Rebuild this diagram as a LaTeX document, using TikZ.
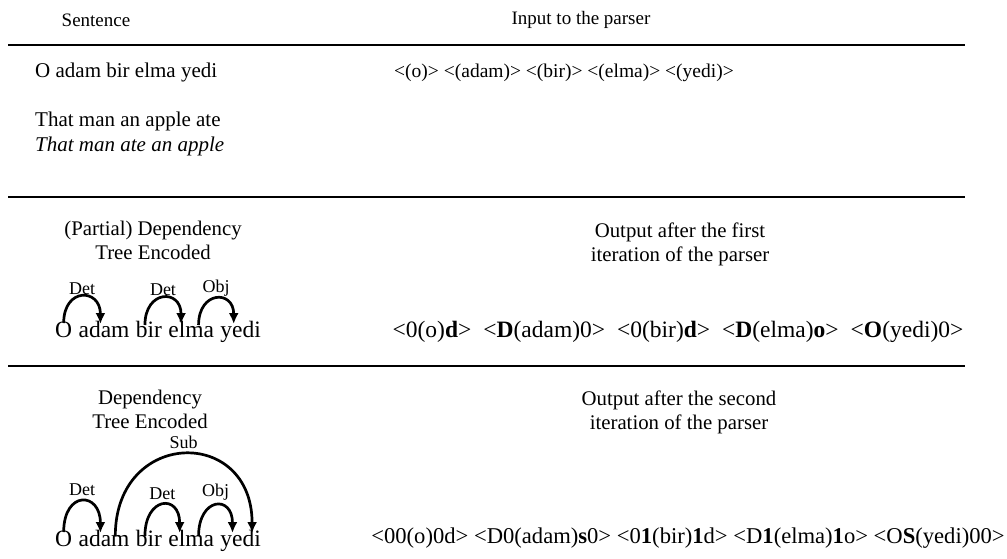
\documentclass[tikz,border=0pt]{standalone}
\usepackage{fontspec}
\setmainfont{Liberation Serif}
\usetikzlibrary{calc}
\usetikzlibrary{positioning}
\usetikzlibrary{arrows.meta}

\tikzset{
  head/.style={font=\fontsize{19}{24}\selectfont, align=center},
  subhead/.style={font=\fontsize{20.8}{24}\selectfont, align=center},
  txt/.style={font=\fontsize{21}{25}\selectfont, anchor=base west, inner sep=0pt},
  code/.style={font=\fontsize{19.5}{24}\selectfont, anchor=base, inner sep=0pt},
  word/.style={font=\fontsize{23.5}{28}\selectfont, inner sep=0pt},
  rel/.style={font=\fontsize{18}{20}\selectfont, inner sep=1pt},
  dep/.style={line width=2.7pt, -{Latex[length=11pt,width=10pt]}},
  rule/.style={line width=1.8pt}
}
\newcommand{\gap}{\hspace{12pt}}

\begin{document}
\begin{tikzpicture}[x=1pt,y=-1pt]
    \useasboundingbox (0,0) rectangle (1007,558);

    % column heads
    \node[head] (hsent) at (96,20) {Sentence};
    \node[head] (hinput) at (581,20) {Input to the parser};
    \draw[rule] (8,45) -- (965,45);

    % the sentence
    \node[txt] (sent) at (35,77) {O adam bir elma yedi};
    \node[txt] (gloss) at (35,126) {That man an apple ate};
    \node[txt, font=\fontsize{21}{25}\selectfont\itshape] (transl) at (35,151) {That man ate an apple};
    \node[code] (input) at (564,77) {<(o)> <(adam)> <(bir)> <(elma)> <(yedi)>};
    \draw[rule] (8,197) -- (965,197);

    % first iteration
    \node[subhead] (part) at (153,240) {(Partial) Dependency\\Tree Encoded};
    \node[subhead] (out1) at (680,244) {Output after the first\\iteration of the parser};
    \node[word, anchor=base west] (o1) at (55,337) {O};
    \node[word, base right=6pt of o1] (adam1) {adam};
    \node[word, base right=6pt of adam1] (bir1) {bir};
    \node[word, base right=6pt of bir1] (elma1) {elma};
    \node[word, base right=6pt of elma1] (yedi1) {yedi};
    \draw[dep] ($(o1.base)+(0,-14)$) to[out=90,in=90,looseness=2.5] node[rel,above=0pt,midway] {Det}
        ($(adam1.base west)!0.43!(adam1.base east)+(0,-13)$);
    \draw[dep] ($(bir1.base west)!0.35!(bir1.base east)+(0,-12)$) to[out=90,in=90,looseness=2.5]
        node[rel,above=0pt,midway] {Det} ($(elma1.base west)!0.28!(elma1.base east)+(0,-13)$);
    \draw[dep] ($(elma1.base west)!0.66!(elma1.base east)+(0,-12)$) to[out=90,in=90,looseness=2.5]
        node[rel,above=0pt,midway] {Obj} ($(yedi1.base west)!0.33!(yedi1.base east)+(0,-13)$);
    \node[code, font=\fontsize{23.5}{28}\selectfont] (enc1) at (678,337) {<0(o)\textbf{d}>\gap<\textbf{D}(adam)0>\gap<0(bir)\textbf{d}>\gap<\textbf{D}(elma)\textbf{o}>\gap<\textbf{O}(yedi)0>};
    \draw[rule] (8,366) -- (965,366);

    % second iteration
    \node[subhead] (full) at (150,409) {Dependency\\Tree Encoded};
    \node[subhead] (out2) at (679,412) {Output after the second\\iteration of the parser};
    \node[word, anchor=base west] (o2) at (55,546) {O};
    \node[word, base right=6pt of o2] (adam2) {adam};
    \node[word, base right=6pt of adam2] (bir2) {bir};
    \node[word, base right=6pt of bir2] (elma2) {elma};
    \node[word, base right=6pt of elma2] (yedi2) {yedi};
    \draw[dep] ($(o2.base)+(0,-14)$) to[out=90,in=90,looseness=2.9] node[rel,above=3pt,midway] {Det}
        ($(adam2.base west)!0.43!(adam2.base east)+(0,-13)$);
    \draw[dep] ($(adam2.base west)!0.72!(adam2.base east)+(0,-10)$) to[out=90,in=90,looseness=2.0]
        node[rel,above=3pt,midway] {Sub} ($(yedi2.base west)!0.78!(yedi2.base east)+(0,-13)$);
    \draw[dep] ($(bir2.base west)!0.35!(bir2.base east)+(0,-10)$) to[out=90,in=90,looseness=2.9]
        node[rel,above=3pt,midway] {Det} ($(elma2.base west)!0.25!(elma2.base east)+(0,-13)$);
    \draw[dep] ($(elma2.base west)!0.66!(elma2.base east)+(0,-10)$) to[out=90,in=90,looseness=2.9]
        node[rel,above=3pt,midway] {Obj} ($(yedi2.base west)!0.30!(yedi2.base east)+(0,-13)$);
    \node[code, font=\fontsize{22.6}{26}\selectfont] (enc2) at (688,543) {<00(o)0d> <D0(adam)\textbf{s}0> <0\textbf{1}(bir)\textbf{1}d> <D\textbf{1}(elma)\textbf{1}o> <O\textbf{S}(yedi)00>};
\end{tikzpicture}
\end{document}
